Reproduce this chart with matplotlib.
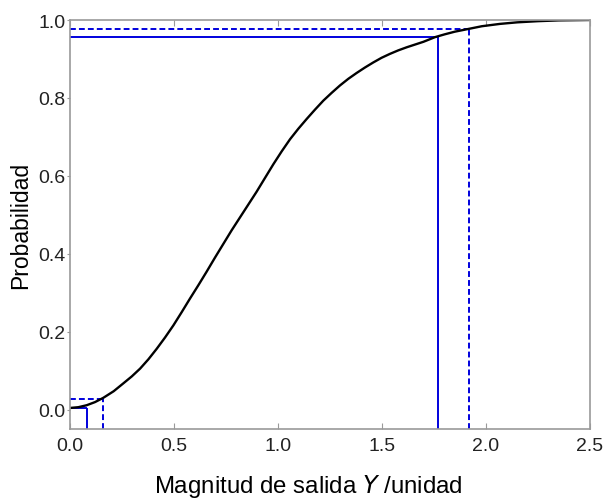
import matplotlib
matplotlib.use("Agg")
import matplotlib.pyplot as plt

plt.rcParams['font.family'] = ['Liberation Sans', 'DejaVu Sans']

# CDF curve
cdf_x = [0.0, 0.04, 0.08, 0.12, 0.16, 0.21, 0.256, 0.297, 0.337, 0.377, 0.417, 0.457,
         0.497, 0.537, 0.577, 0.617, 0.657, 0.697, 0.737, 0.777, 0.817, 0.857, 0.897,
         0.938, 0.978, 1.018, 1.058, 1.098, 1.138, 1.178, 1.218, 1.258, 1.298, 1.338,
         1.378, 1.418, 1.458, 1.498, 1.538, 1.578, 1.619, 1.659, 1.699, 1.755, 1.80,
         1.85, 1.915, 1.98, 2.067, 2.15, 2.25, 2.35, 2.5]
cdf_y = [0.004, 0.006, 0.011, 0.019, 0.030, 0.047, 0.067, 0.085, 0.105, 0.129, 0.156,
         0.185, 0.216, 0.250, 0.285, 0.319, 0.354, 0.390, 0.425, 0.460, 0.493, 0.526,
         0.559, 0.595, 0.630, 0.663, 0.694, 0.721, 0.746, 0.770, 0.793, 0.813, 0.832,
         0.849, 0.864, 0.878, 0.891, 0.903, 0.913, 0.922, 0.930, 0.937, 0.944, 0.956,
         0.963, 0.970, 0.977, 0.984, 0.990, 0.994, 0.997, 0.999, 1.0]

# shortest coverage interval (solid) and symmetric interval (dashed)
solid_x = [0.08, 1.767]
solid_p = [0.005, 0.956]
dashed_x = [0.16, 1.918]
dashed_p = [0.026, 0.976]

xticks = [0.0, 0.5, 1.0, 1.5, 2.0, 2.5]
yticks = [0.0, 0.2, 0.4, 0.6, 0.8, 1.0]
xlabel_text = "Magnitud de salida $\\mathit{Y}$ /unidad"
ylabel_text = "Probabilidad"

fig = plt.figure(figsize=(6.04, 5.02), dpi=100)
ax = fig.add_axes([70/604, 1-430/502, 520/604, 409/502])

ymin, ymax = -0.05, 1.0
blue = '#0000dd'
for xv, pv in zip(solid_x, solid_p):
    ax.plot([0, xv], [pv, pv], color=blue, lw=1.4, solid_capstyle='butt')
    ax.plot([xv, xv], [ymin, pv], color=blue, lw=1.4, solid_capstyle='butt')
for xv, pv in zip(dashed_x, dashed_p):
    ax.plot([0, xv], [pv, pv], color=blue, lw=1.4, ls=(0, (3, 1.6)))
    ax.plot([xv, xv], [ymin, pv], color=blue, lw=1.4, ls=(0, (3, 1.6)))

ax.plot(cdf_x, cdf_y, color='black', lw=1.7, solid_joinstyle='round')

ax.set_xlim(0, 2.5)
ax.set_ylim(ymin, ymax)
ax.set_xticks(xticks)
ax.set_xticklabels([f"{v:.1f}" for v in xticks])
ax.set_yticks(yticks)
ax.set_yticklabels([f"{v:.1f}" for v in yticks])

for s in ax.spines.values():
    s.set_color('#9a9a9a')
    s.set_linewidth(1.2)

ax.tick_params(axis='x', direction='in', top=True, length=4, color='#9a9a9a',
               labelsize=14, labelcolor='#222222', pad=6)
ax.tick_params(axis='y', direction='out', length=2, color='#9a9a9a',
               labelsize=14, labelcolor='#222222', pad=1)

fig.text(308/604, 1-487/502, xlabel_text, fontsize=17.3, color='black',
         ha='center', va='center')
ax.set_ylabel(ylabel_text, fontsize=16.5, labelpad=5, color='black')

fig.savefig("out.png", dpi=100)
